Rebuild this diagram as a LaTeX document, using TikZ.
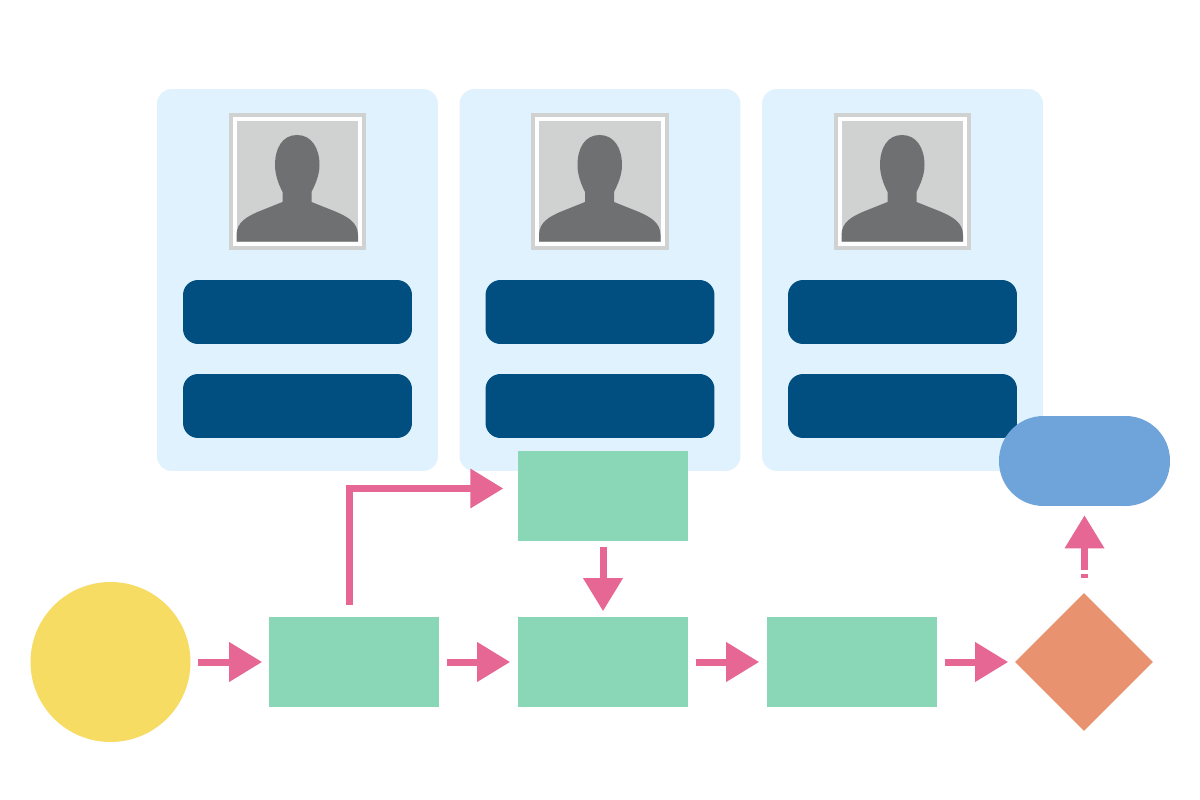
\documentclass[tikz,border=0pt]{standalone}
\usetikzlibrary{arrows.meta,shapes.geometric}
\definecolor{cardblue}{HTML}{E0F2FE}
\definecolor{barblue}{HTML}{004F80}
\definecolor{stepgreen}{HTML}{8AD7B8}
\definecolor{startyellow}{HTML}{F7DC64}
\definecolor{choiceorange}{HTML}{E8926F}
\definecolor{endblue}{HTML}{6FA4DA}
\definecolor{arrowpink}{HTML}{E66793}
\definecolor{photogrey}{HTML}{D0D2D1}
\definecolor{headgrey}{HTML}{6F7072}
\tikzset{
  card/.style={fill=cardblue,rounded corners=0.3cm,minimum width=5.62cm,minimum height=7.64cm,inner sep=0},
  bar/.style={fill=barblue,rounded corners=0.3cm,minimum width=4.58cm,minimum height=1.28cm,inner sep=0},
  stepbox/.style={fill=stepgreen,minimum width=3.42cm,minimum height=1.8cm,inner sep=0},
  flow/.style={-{Triangle[length=0.66cm,width=0.76cm]},draw=arrowpink,line width=0.14cm}
}
\begin{document}
\begin{tikzpicture}[x=0.02cm,y=-0.02cm]
\useasboundingbox (0,0) rectangle (1200,800);
\fill[white] (0,0) rectangle (1200,800);

\foreach \cardx/\cardname in {297.5/one,600/two,902.5/three}{
  \node[card] (card\cardname) at (\cardx,280) {};
  \node[bar] (upper\cardname) at (\cardx,312) {};
  \node[bar] (lower\cardname) at (\cardx,406) {};
  \begin{scope}[shift={(\cardx,0)}]
    \draw[photogrey,line width=0.08cm,fill=white] (-67,115) rectangle (66.5,248);
    \fill[photogrey] (-61,120.7) rectangle (60.5,241.7);
    \fill[headgrey] (-0.5,135) .. controls (-15,135) and (-22.5,148) .. (-22.5,165)
      .. controls (-22.5,175) and (-19,184) .. (-15,192) -- (-15,202) -- (-40,212)
      .. controls (-50,216.5) and (-61,222) .. (-61,235) -- (-61,241.7) -- (60.5,241.7) -- (60.5,235)
      .. controls (60.5,222) and (49,216.5) .. (39,212) -- (14,202) -- (14,192)
      .. controls (18,184) and (22,175) .. (22,165)
      .. controls (22,148) and (14,135) .. (-0.5,135) -- cycle;
  \end{scope}
}

\node[circle,fill=startyellow,minimum size=3.2cm,inner sep=0] (start) at (110.5,662) {};
\node[stepbox] (first) at (354,662) {};
\node[stepbox] (second) at (603,662) {};
\node[stepbox] (third) at (852,662) {};
\node[stepbox] (upperstep) at (603,496) {};
\node[diamond,aspect=1,fill=choiceorange,minimum width=2.76cm,minimum height=2.76cm,inner sep=0] (choice) at (1084,662) {};
\node[fill=endblue,rounded corners=0.89cm,minimum width=3.42cm,minimum height=1.8cm,inner sep=0] (finish) at (1084.5,461) {};

\coordinate (branchstart) at (349.3,605);
\coordinate (branchend) at (503.3,488.5);

\draw[flow,shorten <=7.5*0.02cm,shorten >=6*0.02cm] (start) -- (first);
\draw[flow,shorten <=7*0.02cm,shorten >=7*0.02cm] (first) -- (second);
\draw[flow,shorten <=7*0.02cm,shorten >=7*0.02cm] (second) -- (third);
\draw[flow,shorten <=7*0.02cm,shorten >=6.5*0.02cm] (third) -- (choice);
\draw[flow,shorten <=6*0.02cm,shorten >=5.5*0.02cm] (upperstep) -- (second);
\draw[flow] (branchstart) |- (branchend);
\draw[flow,shorten <=15*0.02cm,shorten >=9*0.02cm] (choice.north -| finish) -- (finish);
\fill[white] (1078,570) rectangle (1091,573.5);
\end{tikzpicture}
\end{document}
